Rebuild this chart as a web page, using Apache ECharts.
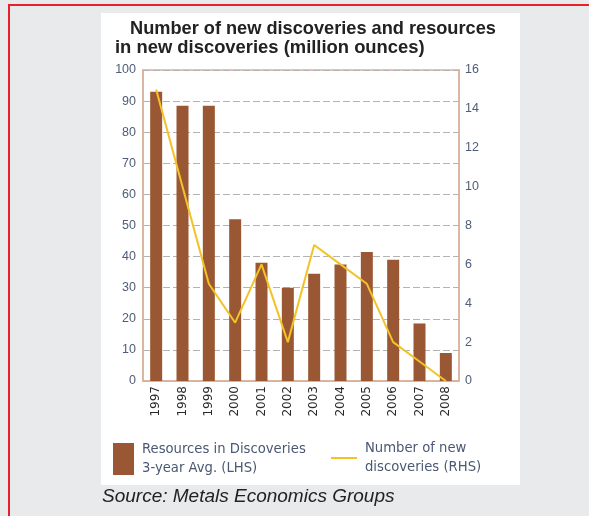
<!DOCTYPE html>
<html>
<head>
<meta charset="utf-8">
<style>
  html, body { margin: 0; padding: 0; background: #e9eaec; }
  #chart { width: 589px; height: 516px; }
</style>
<script src="https://cdn.jsdelivr.net/npm/echarts@6/dist/echarts.min.js"></script>
</head>
<body>
<div id="chart"></div>
<script>
// Years on the category axis
const years = ['1997', '1998', '1999', '2000', '2001', '2002', '2003', '2004', '2005', '2006', '2007', '2008'];
// Resources in discoveries, 3-year average, million ounces (left axis)
const resources = [93, 88.5, 88.5, 52, 38, 30, 34.5, 37.5, 41.5, 39, 18.5, 9];
// Number of new discoveries (right axis)
const discoveries = [15, 10, 5, 3, 6, 2, 7, 6, 5, 2, 1, 0];

const barName = 'Resources in Discoveries\n3-year Avg. (LHS)';
const lineName = 'Number of new\ndiscoveries (RHS)';

const chart = echarts.init(document.getElementById('chart'), null, { renderer: 'canvas' });

const fontFamily = '"Liberation Sans", Arial, sans-serif';
const wideFont = '"DejaVu Sans", "Liberation Sans", sans-serif';
const axisColor = '#d8b29c';
const tickText = '#4f5d78';
const legendText = { fontFamily: wideFont, fontSize: 13.2, color: '#4a5874', lineHeight: 19, padding: [0, 0, 0, 3] };

chart.setOption({
  backgroundColor: '#e9eaec',
  animation: false,
  graphic: [
    { type: 'rect', shape: { x: 101, y: 13, width: 419, height: 472 }, style: { fill: '#ffffff' }, z: -10 },
    { type: 'rect', shape: { x: 8, y: 4, width: 581, height: 2 }, style: { fill: '#e8202a' }, z: -5 },
    { type: 'rect', shape: { x: 8, y: 4, width: 2, height: 512 }, style: { fill: '#e8202a' }, z: -5 },
    {
      type: 'text', left: 102, top: 487,
      style: { text: 'Source: Metals Economics Groups', fill: '#222', font: 'italic 19px "Liberation Sans", Arial, sans-serif' }
    }
  ],
  title: [
    {
      text: 'Number of new discoveries and resources',
      left: 125, top: 15,
      textStyle: { fontFamily, fontSize: 18.2, fontWeight: 'bold', color: '#222' }
    },
    {
      text: 'in new discoveries (million ounces)',
      left: 110, top: 34,
      textStyle: { fontFamily, fontSize: 18.4, fontWeight: 'bold', color: '#222' }
    }
  ],
  legend: [
    {
      data: [{ name: barName, icon: 'rect' }],
      left: 108, top: 435,
      itemWidth: 21, itemHeight: 32, itemGap: 10,
      selectedMode: false,
      textStyle: legendText
    },
    {
      data: [{ name: lineName, icon: 'rect' }],
      left: 326, top: 434,
      itemWidth: 26, itemHeight: 2, itemGap: 8,
      selectedMode: false,
      textStyle: legendText
    }
  ],
  grid: {
    left: 143, right: 130, top: 70, bottom: 135,
    show: true, borderColor: axisColor, borderWidth: 1.5, backgroundColor: '#ffffff'
  },
  xAxis: {
    type: 'category',
    data: years,
    boundaryGap: true,
    axisLine: { show: true, lineStyle: { color: axisColor, width: 1.5 } },
    axisTick: { show: false },
    axisLabel: {
      rotate: 90, margin: 5, color: '#2a2a2a',
      fontFamily: wideFont, fontSize: 12
    }
  },
  yAxis: [
    {
      type: 'value', min: 0, max: 100, interval: 10,
      axisLine: { show: true, lineStyle: { color: axisColor, width: 1.5 } },
      axisTick: { show: false },
      axisLabel: { color: tickText, fontFamily, fontSize: 12.5, margin: 7 },
      splitLine: { show: true, lineStyle: { color: '#b3b3b3', type: [7, 3], width: 1 } }
    },
    {
      type: 'value', min: 0, max: 16, interval: 2, position: 'right',
      axisLine: { show: true, lineStyle: { color: axisColor, width: 1.5 } },
      axisTick: { show: false },
      axisLabel: { color: tickText, fontFamily, fontSize: 12.5, margin: 6 },
      splitLine: { show: false }
    }
  ],
  series: [
    {
      name: barName,
      type: 'bar',
      yAxisIndex: 0,
      data: resources,
      barWidth: 12,
      itemStyle: { color: '#995833' }
    },
    {
      name: lineName,
      type: 'line',
      yAxisIndex: 1,
      data: discoveries,
      symbol: 'none',
      lineStyle: { color: '#f4c227', width: 2 },
      itemStyle: { color: '#f4c227' },
      z: 5
    }
  ]
});
</script>
</body>
</html>
